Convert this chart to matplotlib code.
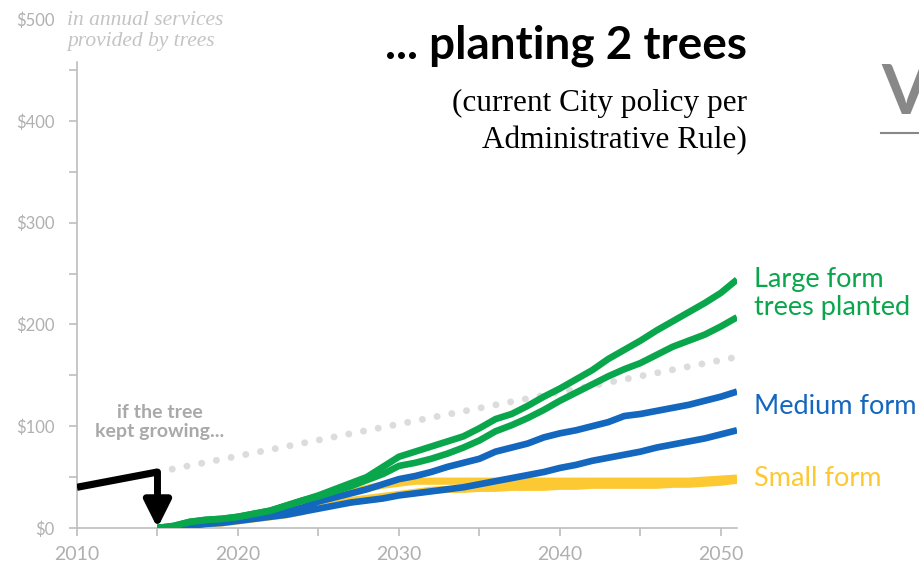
import matplotlib.pyplot as plt

plt.rcParams['font.family'] = ['Lato', 'DejaVu Sans']

# years shared by all planted-tree series
years = list(range(2015, 2052))

large_a = [0, 2, 6, 8, 9, 11, 14, 17, 22, 27, 32, 38, 44, 50, 60, 70, 75, 80, 85, 90,
           98, 107, 112, 120, 129, 137, 146, 155, 166, 175, 184, 194, 203, 212, 221, 231, 244]
large_b = [0, 2, 6, 8, 9, 11, 14, 17, 22, 27, 31, 36, 41, 47, 53, 61, 64, 68, 73, 79,
           86, 95, 101, 108, 116, 125, 133, 141, 149, 156, 162, 170, 178, 184, 190, 198, 207]
medium_a = [0, 1, 3, 5, 6, 8, 10, 13, 16, 20, 26, 30, 34, 38, 43, 48, 51, 55, 60, 64,
            68, 75, 79, 83, 89, 93, 96, 100, 104, 110, 112, 115, 118, 121, 125, 129, 134]
medium_b = [0, 0, 2, 4, 5, 7, 9, 11, 13, 16, 19, 22, 25, 27, 29, 32, 34, 36, 38, 40,
            43, 46, 49, 52, 55, 59, 62, 66, 69, 72, 75, 79, 82, 85, 88, 92, 96]
small_a = [0, 1, 3, 5, 6, 8, 10, 13, 16, 20, 27, 31, 35, 39, 42, 44, 46, 46, 46, 46,
           46, 46, 46, 46, 46, 46, 46, 46, 46, 46, 46, 46, 46, 46, 47, 48, 49]
small_b = [0, 0, 2, 4, 5, 7, 9, 11, 13, 16, 22, 25, 27, 29, 31, 33, 35, 37, 38, 38,
           39, 39, 40, 40, 40, 41, 41, 42, 42, 42, 42, 42, 43, 43, 44, 45, 47]

# existing tree before removal and the "kept growing" projection
old_years = [2010, 2015]
old_value = [40, 55]
kept_years = [2015, 2051]
kept_value = [55, 168]

green = '#0aa64c'
blue = '#1467be'
yellow = '#fdc932'
grey = '#bdbdbd'
label_grey = '#b0b0b0'

fig = plt.figure(figsize=(9.19, 5.69), dpi=100)
ax = fig.add_axes([77 / 919, 41 / 569, 660 / 919, 509 / 569])

ax.plot(kept_years, kept_value, color='#dcdcdc', lw=5,
        linestyle=(0, (0.01, 2.15)), dash_capstyle='round', zorder=1)

for s in (small_a, small_b):
    ax.plot(years, s, color=yellow, lw=5.2, solid_capstyle='butt', zorder=2)
for s in (medium_a, medium_b):
    ax.plot(years, s, color=blue, lw=4.8, solid_capstyle='butt', zorder=3)
for s in (large_a, large_b):
    ax.plot(years, s, color=green, lw=4.8, solid_capstyle='butt', zorder=4)

ax.plot(old_years, old_value, color='black', lw=5.2, solid_capstyle='butt', zorder=5)
ax.annotate('', xy=(old_years[-1], 0), xytext=(old_years[-1], old_value[-1]),
            arrowprops=dict(arrowstyle='-|>,head_width=0.45,head_length=0.9',
                            mutation_scale=18, lw=5, color='black',
                            shrinkA=0, shrinkB=0), zorder=5)

ax.set_xlim(2010, 2051)
ax.set_ylim(0, 500)

for side in ('top', 'right'):
    ax.spines[side].set_visible(False)
ax.spines['left'].set_bounds(0, 458)
ax.spines['bottom'].set_bounds(2010, 2051)
for side in ('left', 'bottom'):
    ax.spines[side].set_color(grey)
    ax.spines[side].set_linewidth(1.2)

ax.set_xticks(range(2010, 2051, 10))
ax.set_xticks(range(2015, 2051, 10), minor=True)
ax.set_yticks(range(0, 501, 100))
ax.set_yticklabels(['$' + str(v) for v in range(0, 501, 100)])
ax.set_yticks(range(50, 451, 100), minor=True)
ax.yaxis.get_major_ticks()[-1].tick1line.set_visible(False)
ax.tick_params(axis='both', which='both', color=grey, width=1.2, length=6)
ax.tick_params(axis='y', labelsize=12, labelcolor=label_grey, pad=10)
ax.tick_params(axis='x', labelsize=14, labelcolor=label_grey, pad=7)

fig.text(67 / 919, 1 - 31 / 569, 'in annual services\nprovided by trees',
         family='Liberation Serif', style='italic', fontsize=15.5, color='#c4c4c4',
         ha='left', va='center', linespacing=1.15)

fig.text(747 / 919, 1 - 46 / 569, '... planting 2 trees', fontsize=33,
         fontweight='bold', color='black', ha='right', va='center')
fig.text(747 / 919, 1 - 122 / 569, '(current City policy per\nAdministrative Rule)',
         family='Liberation Serif', fontsize=22.5, color='black', ha='right',
         va='center', linespacing=1.35)

ax.text(2015.15, 104, 'if the tree\nkept growing...', fontsize=14, fontweight='bold',
        color='#a9a9a9', ha='center', va='center', linespacing=1.1)

fig.text(754 / 919, 1 - 294 / 569, 'Large form\ntrees planted', fontsize=19.5,
         color=green, ha='left', va='center', linespacing=1.15)
fig.text(754 / 919, 1 - 406 / 569, 'Medium form', fontsize=19.5, color=blue,
         ha='left', va='center')
fig.text(754 / 919, 1 - 479 / 569, 'Small form', fontsize=19.5, color=yellow,
         ha='left', va='center')

# piece of the next slide element peeking in at the right edge
fig.text(881 / 919, 1 - 94 / 569, 'V', fontsize=50, fontweight='bold',
         color='#888888', ha='left', va='center')
fig.add_artist(plt.Line2D([881 / 919, 1], [1 - 133 / 569, 1 - 133 / 569],
                          color='#888888', lw=1.5))

fig.savefig('out.png', dpi=100)
